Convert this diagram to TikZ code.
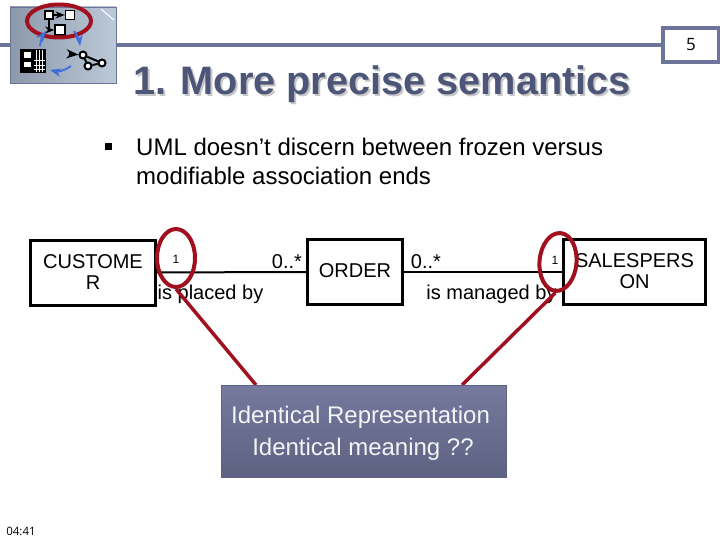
\documentclass[tikz,border=0pt]{standalone}
\usepackage{fontspec}
\setmainfont{Liberation Sans}
\newfontfamily\slidefont{Open Sans}
\usetikzlibrary{arrows.meta,shapes.geometric}
\definecolor{rulecol}{HTML}{6E7399}
\definecolor{titlecol}{HTML}{4D5678}
\definecolor{redcol}{HTML}{A0101E}
\definecolor{arrowcol}{HTML}{3F6FD8}
\definecolor{icoleft}{HTML}{8C99AB}
\definecolor{icoright}{HTML}{BCC9D8}
\tikzset{
  umlbox/.style={draw=black,line width=3pt,fill=white,minimum height=65pt,inner sep=0pt},
  txt/.style={inner sep=0pt,align=center,font=\fontsize{20}{21}\selectfont},
  small/.style={inner sep=0pt,font=\fontsize{12}{14}\selectfont},
  ring/.style={draw=redcol,line width=4pt,ellipse,inner sep=0pt},
  lead/.style={draw=redcol,line width=3.5pt},
  body/.style={inner sep=0pt,anchor=base west,font=\fontsize{24}{29}\selectfont},
  icobox/.style={draw=black,line width=1.4pt,fill=white,inner sep=0pt},
  icoring/.style={draw=black,line width=2pt,fill=white,circle,inner sep=0pt},
}
\begin{document}
\begin{tikzpicture}[x=1pt,y=-1pt,>=Stealth]
\useasboundingbox (0,0) rectangle (720,540);
% header
\coordinate (ruleL) at (0,45);
\node[draw=rulecol,line width=4pt,fill=white,minimum width=56pt,minimum height=34pt,inner sep=0pt,font=\slidefont\fontsize{17}{20}\selectfont] (page) at (691,45) {5};
\draw[rulecol,line width=4pt] (ruleL) -- (page.west);
\node[inner sep=0pt,text=black!22,font=\bfseries\fontsize{39.7}{44}\selectfont] (titleshadow) at (384,86) {1. More precise semantics};
\node[inner sep=0pt,text=titlecol,font=\bfseries\fontsize{39.7}{44}\selectfont] (title) at (382,84) {1. More precise semantics};
% icon
\node[draw=rulecol,line width=.8pt,minimum width=106pt,minimum height=76pt,inner sep=0pt,left color=icoleft,right color=icoright] (icon) at (63,45) {};
\coordinate (glintA) at (101,9);
\coordinate (glintB) at (114,20);
\draw[white,line width=1pt] (glintA) -- (glintB);
\node[icobox,minimum size=8pt] (boxA) at (49,15) {};
\node[icobox,minimum size=9pt] (boxB) at (70,15) {};
\node[icobox,minimum size=10pt] (boxC) at (60,30) {};
\draw[->,line width=1.4pt] (boxA) -- (boxB);
\draw[->,line width=1.4pt] (boxA) |- (boxC);
\node[ring,minimum width=64pt,minimum height=33pt] (iconring) at (59,21) {};
\node[fill=black,minimum width=26pt,minimum height=24pt,inner sep=0pt] (table) at (33,61) {};
\node[fill=white,minimum width=7pt,minimum height=6pt,inner sep=0pt] (cellA) at (27,55) {};
\node[fill=white,minimum width=7pt,minimum height=5pt,inner sep=0pt] (cellB) at (27,65) {};
\foreach \x in {36,39,42}{\draw[white,line width=.5pt] (\x,50) -- (\x,72);}
\foreach \y in {60,65,69}{\draw[white,line width=.5pt] (34,\y) -- (45,\y);}
\node[icoring,minimum size=7pt] (stateA) at (83,55) {};
\node[icoring,minimum size=7pt] (stateB) at (102,63) {};
\node[icoring,minimum size=7pt] (stateC) at (88,66) {};
\coordinate (stateIn) at (69,54);
\draw[->,line width=2pt] (stateIn) -- (stateA);
\draw[line width=2pt] (stateA) -- (stateC) -- (stateB) -- (stateA);
\coordinate (blueA) at (40,46);
\coordinate (blueB) at (46,31);
\coordinate (blueC) at (74,31);
\coordinate (blueD) at (80,46);
\coordinate (blueE) at (71,66);
\coordinate (blueF) at (50,70);
\draw[->,arrowcol,line width=1.8pt] (blueA) to[bend left=15] (blueB);
\draw[->,arrowcol,line width=1.8pt] (blueC) to[bend left=15] (blueD);
\draw[->,arrowcol,line width=1.8pt] (blueE) to[bend left=25] (blueF);
% text
\node[fill=black,minimum size=7pt,inner sep=0pt] (bullet) at (108,147) {};
\node[body] (lineA) at (136,155.5) {UML doesn’t discern between frozen versus};
\node[body] (lineB) at (136,184.5) {modifiable association ends};
% diagram
\node[umlbox,minimum width=125pt] (customer) at (93,272.5) {};
\node[umlbox,minimum width=95pt] (order) at (355,272) {};
\node[umlbox,minimum width=142pt] (sales) at (634.5,272) {};
\draw[line width=2pt] (customer) -- (order);
\draw[line width=2pt] (order) -- (sales);
\node[txt] (customertxt) at (93,272.5) {CUSTOME\\R};
\node[txt] (ordertxt) at (355,271) {ORDER};
\node[txt] (salestxt) at (634.5,271.5) {SALESPERS\\ON};
\node[txt] (multA) at (287,262) {0..*};
\node[txt] (multB) at (426,262) {0..*};
\node[small] (oneA) at (176,259) {1};
\node[small] (oneB) at (555,260) {1};
\node[txt] (placed) at (210.5,294) {is placed by};
\node[txt] (managed) at (491.5,294) {is managed by};
% callout
\node[ring,minimum width=38pt,minimum height=58pt] (ringA) at (176,258) {};
\node[ring,minimum width=37pt,minimum height=58pt,rotate=-5] (ringB) at (558,262) {};
\coordinate (noteA) at (256,385);
\coordinate (noteB) at (462,385);
\draw[lead] (ringA.south) -- (noteA);
\draw[lead] (ringB.south) -- (noteB);
\node[draw=rulecol!85!black,line width=.6pt,top color=rulecol!95!white,bottom color=rulecol!85!black,minimum width=285pt,minimum height=92pt,inner sep=0pt] (note) at (363.5,431) {};
\node[body,anchor=center,text=white!92!rulecol] (noteL1) at (360.5,417) {Identical Representation};
\node[body,anchor=center,text=white!92!rulecol] (noteL2) at (363,449) {Identical meaning ??};
% clock
\node[inner sep=0pt,font=\slidefont\fontsize{11.5}{13}\selectfont] (clock) at (21,531) {04:41};
\end{tikzpicture}
\end{document}
